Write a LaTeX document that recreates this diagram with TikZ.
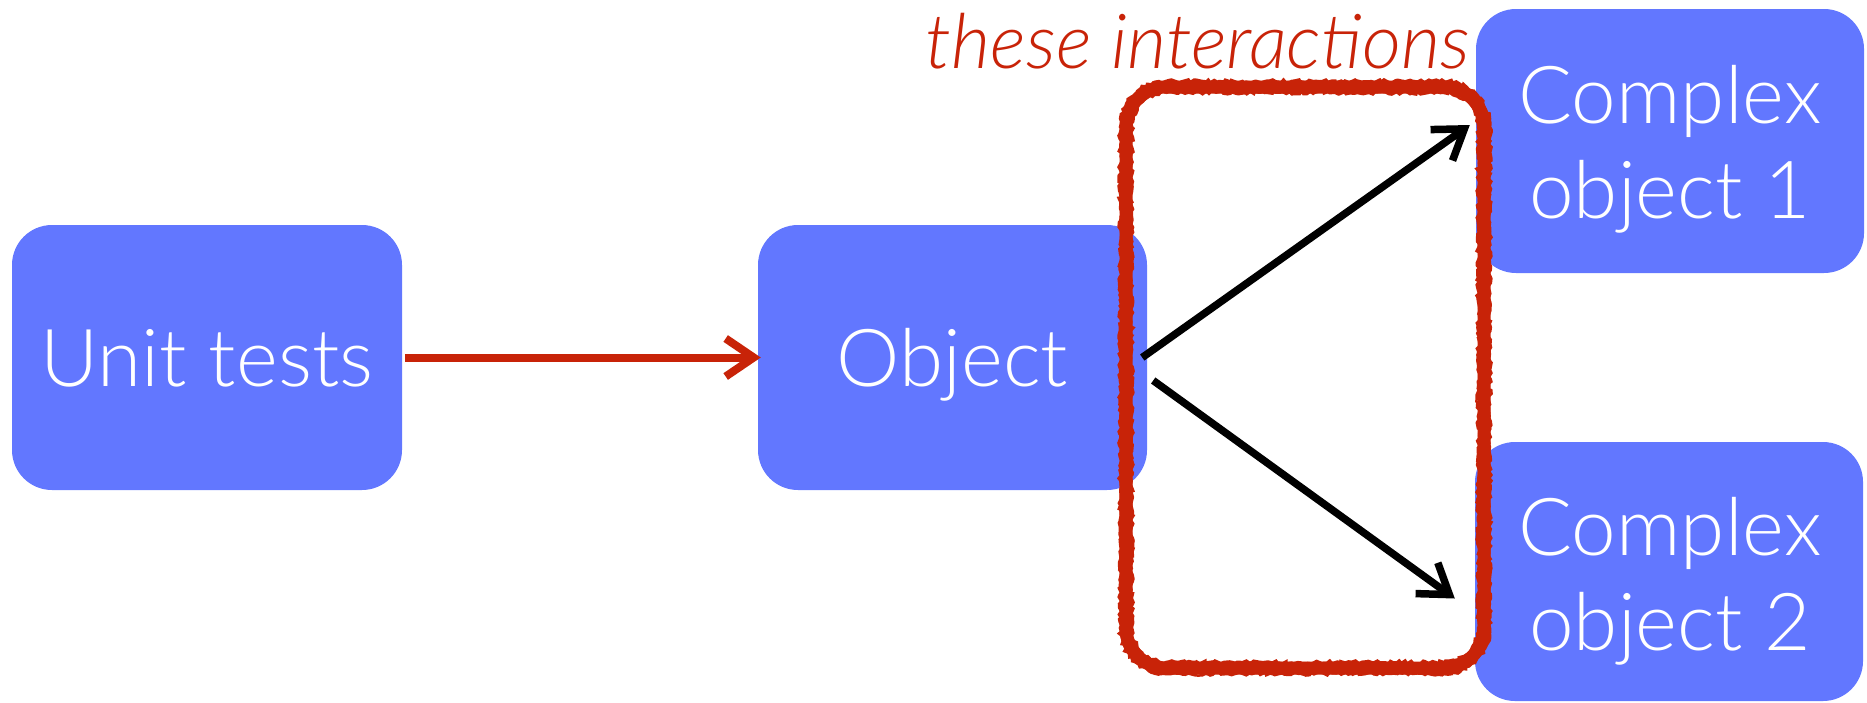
\documentclass[tikz,border=0pt]{standalone}
\usepackage{fontspec}
\setmainfont{Lato Light}[ItalicFont={Lato Light Italic}]
\usetikzlibrary{arrows.meta,calc,decorations.pathmorphing}
\definecolor{boxblue}{RGB}{98,119,255}
\definecolor{redc}{RGB}{200,35,8}
\newcommand{\roundrect}[5]{% x1 y1 x2 y2 r  (y downwards)
  (#1+#5,#2) -- (#3-#5,#2)
  .. controls (#3-#5+0.552*#5,#2) and (#3,#2+#5-0.552*#5) .. (#3,#2+#5)
  -- (#3,#4-#5)
  .. controls (#3,#4-#5+0.552*#5) and (#3-#5+0.552*#5,#4) .. (#3-#5,#4)
  -- (#1+#5,#4)
  .. controls (#1+#5-0.552*#5,#4) and (#1,#4-#5+0.552*#5) .. (#1,#4-#5)
  -- (#1,#2+#5)
  .. controls (#1,#2+#5-0.552*#5) and (#1+#5-0.552*#5,#2) .. (#1+#5,#2) -- cycle}
\begin{document}
\begin{tikzpicture}[x=1pt,y=-1pt,
  box/.style={fill=boxblue, rounded corners=40pt, inner sep=0pt, text=white,
    font=\fontsize{80}{95}\selectfont},
  boxtext/.style={text=white, inner sep=0pt, font=\fontsize{80}{95}\selectfont},
  redarrow/.style={draw=redc, line width=8pt, -{Straight Barb[length=28pt,width=38pt]}},
  blackarrow/.style={draw=black, line width=7.5pt, -{Straight Barb[length=28pt,width=38pt]}},
  rough/.style={draw=redc, line width=2.5pt, decorate,
    decoration={random steps, segment length=3pt, amplitude=1.6pt}},
  title/.style={text=redc, inner sep=0pt, font=\fontsize{76}{86}\selectfont\itshape}
]
\useasboundingbox (0,0) rectangle (1867,702);
\pgfmathsetseed{12}

% boxes
\node[box, minimum width=390pt, minimum height=265pt, text height=58pt, text depth=0pt]
  (ut) at (207,357.5) {Unit tests};
\node[box, minimum width=389pt, minimum height=265pt, text height=58pt, text depth=0pt]
  (obj) at (952.5,357.5) {Object};
\node[box, minimum width=388pt, minimum height=264pt] (c1) at (1670,141) {};
\node[box, minimum width=388pt, minimum height=259pt] (c2) at (1669,571.5) {};
\node[boxtext, anchor=base] (c1a) at (1670,123) {Complex};
\node[boxtext, anchor=base] (c1b) at (1670,218) {object 1};
\node[boxtext, anchor=base] (c2a) at (1670,555) {Complex};
\node[boxtext, anchor=base] (c2b) at (1670,650) {object 2};

% title
\node[title, anchor=base] (ttl) at (1198,68) {these interactions};

% arrows
\draw[redarrow, shorten <=3pt, shorten >=-3pt] (ut.east) -- (obj.west);
\coordinate (s1) at ($(obj.east)+(-5,0)$);
\coordinate (e1) at ($(c1.west)+(-6,-16)$);
\coordinate (s2) at ($(obj.east)+(6,23)$);
\coordinate (e2) at ($(c2.west)+(-20,27)$);
\draw[blackarrow] (s1) -- (e1);
\draw[blackarrow] (s2) -- (e2);

% hand-drawn highlight
\draw[redc, line width=13pt] \roundrect{1126}{87}{1484}{668}{40};
\draw[rough] \roundrect{1120}{81}{1490}{674}{46};
\draw[rough] \roundrect{1132}{93}{1478}{662}{34};
\draw[rough] \roundrect{1126}{87}{1484}{668}{40};
\end{tikzpicture}
\end{document}
